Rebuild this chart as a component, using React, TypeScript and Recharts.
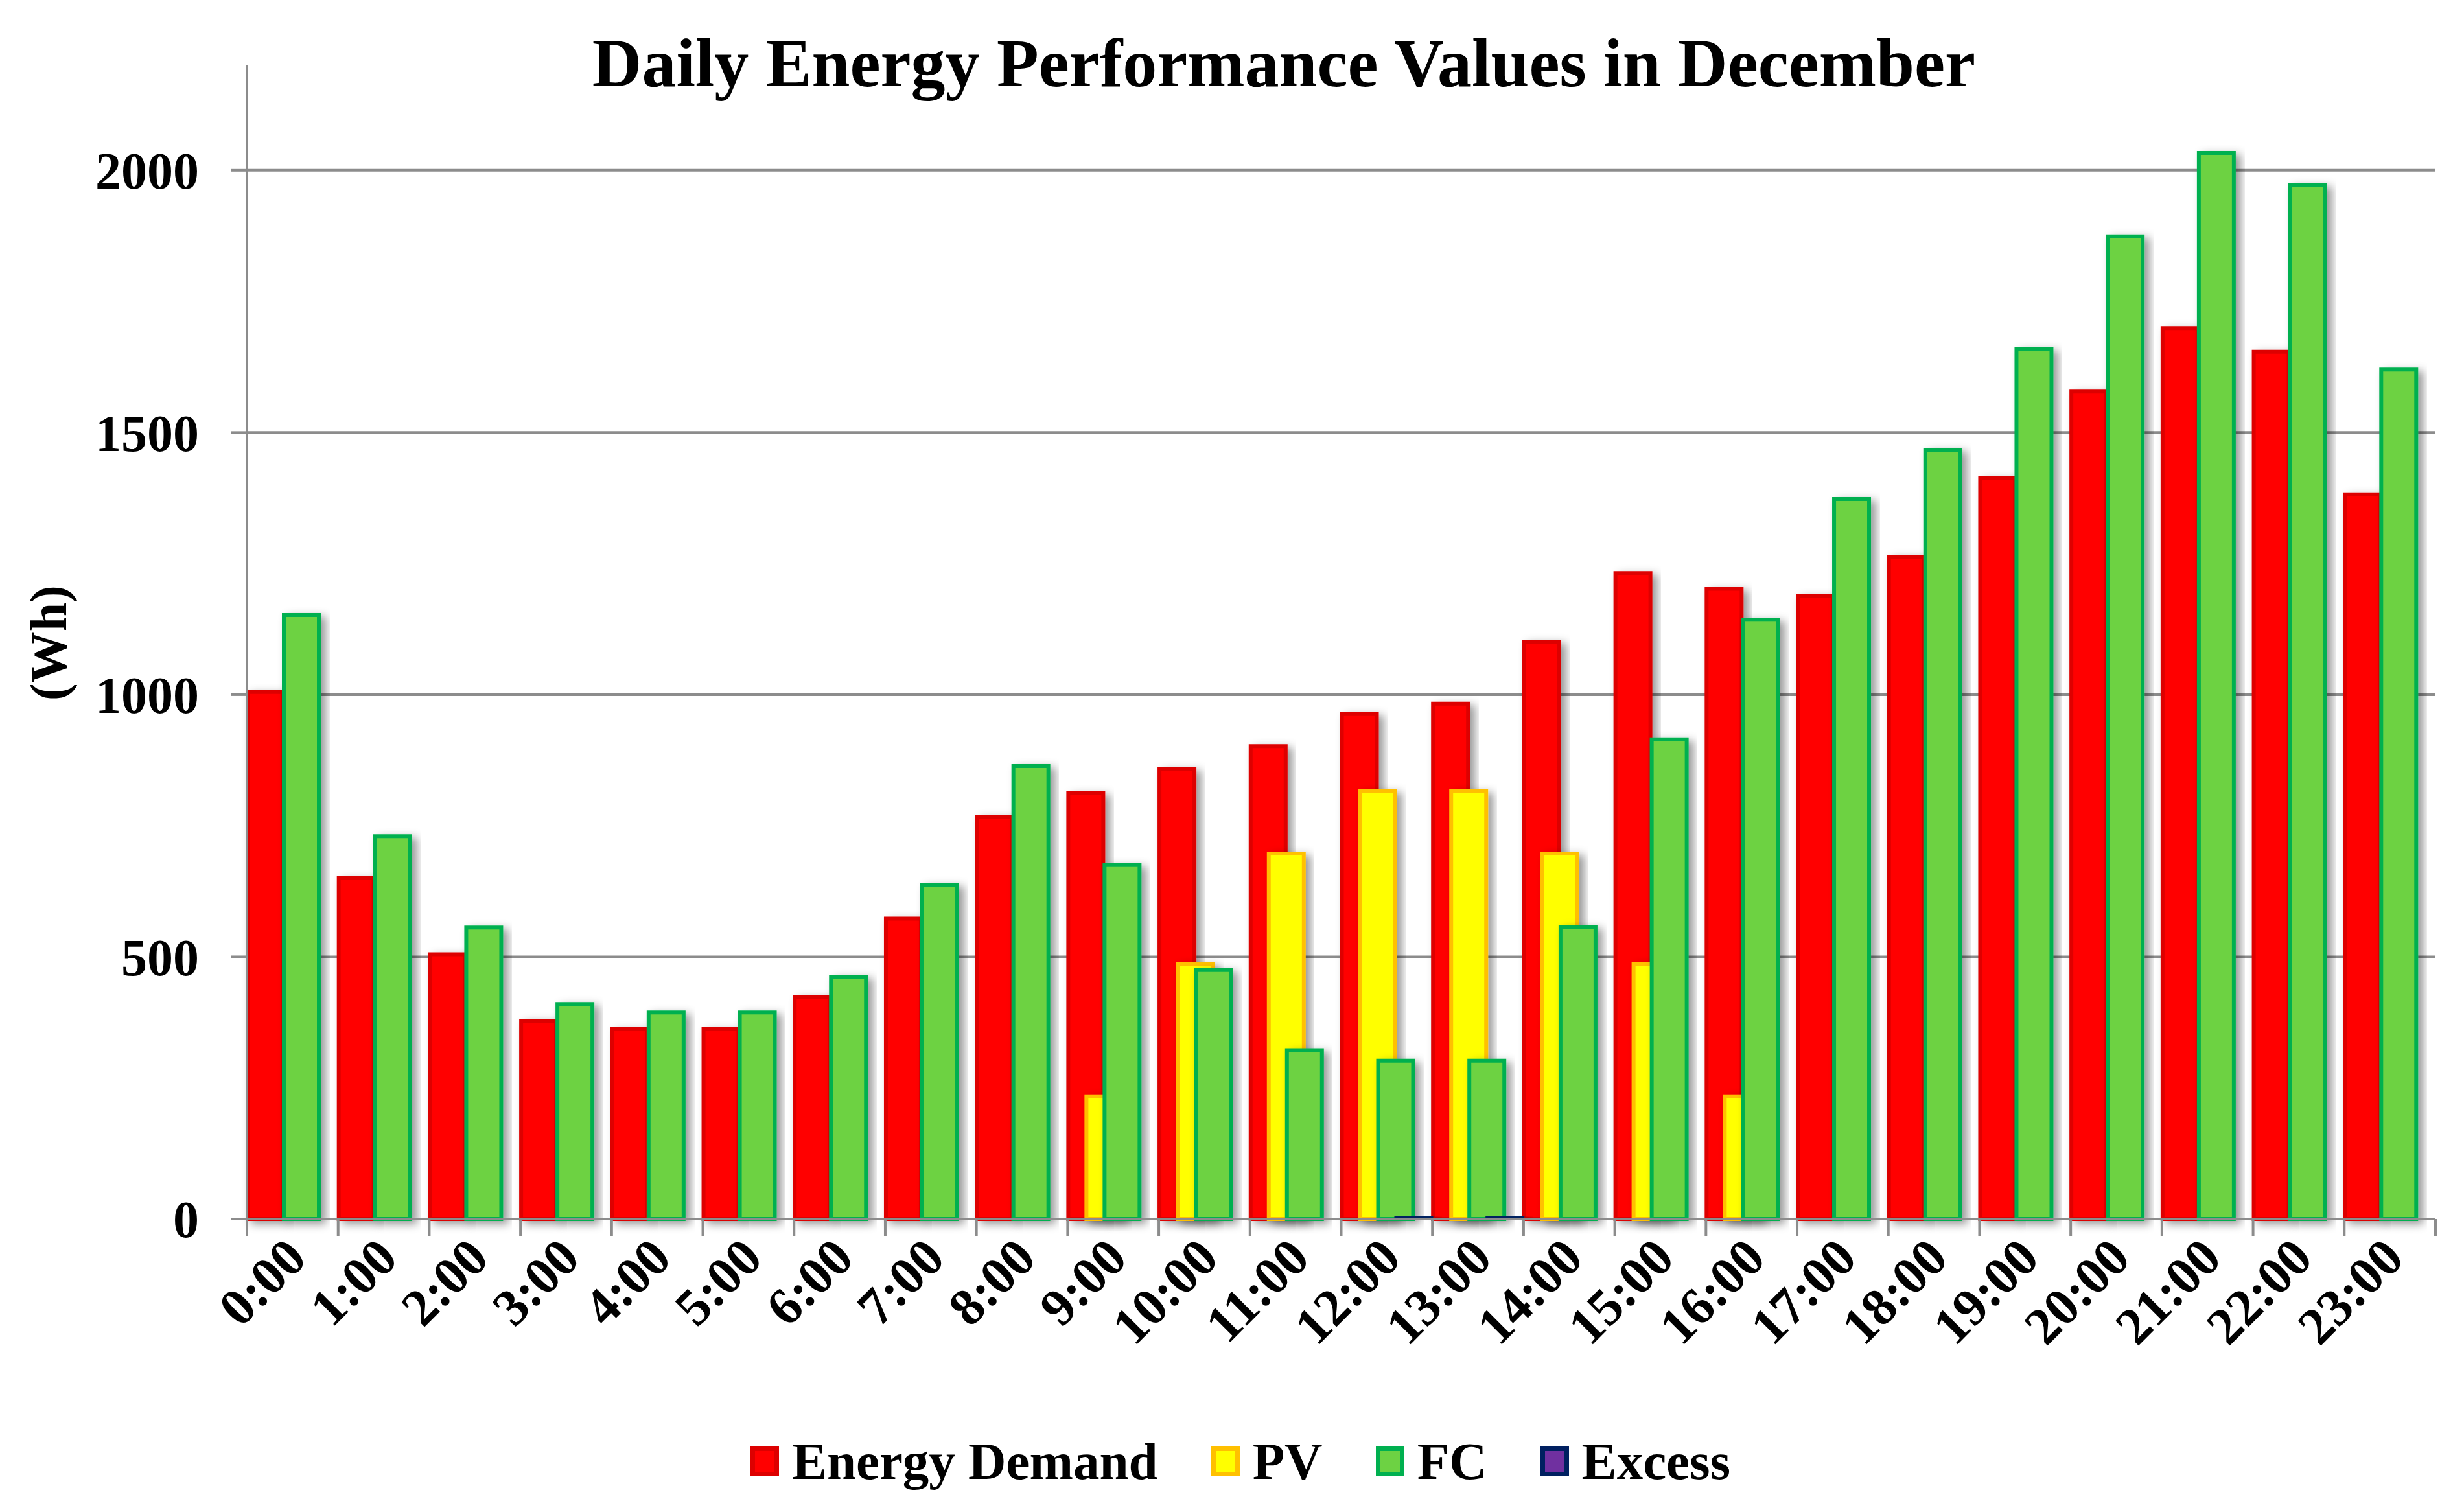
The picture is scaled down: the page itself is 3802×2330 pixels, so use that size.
import React from "react";
import { BarChart, Bar, XAxis, YAxis, CartesianGrid, Legend } from "recharts";

const HOURS = [
  "0:00", "1:00", "2:00", "3:00", "4:00", "5:00", "6:00", "7:00",
  "8:00", "9:00", "10:00", "11:00", "12:00", "13:00", "14:00", "15:00",
  "16:00", "17:00", "18:00", "19:00", "20:00", "21:00", "22:00", "23:00",
];
const DEMAND = [1005, 650, 505, 378, 362, 362, 423, 573, 767, 812, 858, 902, 963, 983, 1101, 1232, 1202, 1188, 1263, 1413, 1578, 1699, 1654, 1382];
const PV = [0, 0, 0, 0, 0, 0, 0, 0, 0, 234, 486, 697, 816, 816, 697, 486, 234, 0, 0, 0, 0, 0, 0, 0];
const FC = [1152, 730, 556, 410, 394, 394, 462, 637, 864, 675, 475, 322, 302, 302, 557, 915, 1143, 1373, 1467, 1659, 1874, 2033, 1972, 1620];
const EXCESS = [0, 0, 0, 0, 0, 0, 0, 0, 0, 0, 0, 0, 5, 5, 0, 0, 0, 0, 0, 0, 0, 0, 0, 0];
const Y_TICKS = [0, 500, 1000, 1500, 2000];
const GRID_VALUES = [500, 1000, 1500, 2000];

const SERIES = [
  { key: "demand", name: "Energy Demand", fill: "#FF0000", stroke: "#DD0000" },
  { key: "pv", name: "PV", fill: "#FFFF00", stroke: "#FFC000" },
  { key: "fc", name: "FC", fill: "#6DD243", stroke: "#00B050" },
  { key: "excess", name: "Excess", fill: "#7030A0", stroke: "#002060" },
];

const data = HOURS.map((h, i) => ({
  hour: h,
  demand: DEMAND[i],
  pv: PV[i],
  fc: FC[i],
  excess: EXCESS[i],
}));

const W = 3802;
const H = 2330;
const M = { top: 101, right: 44, left: 0, bottom: 25 };
const Y_W = 381;
const BAND = (W - M.left - M.right - Y_W) / HOURS.length;
const FONT = "'Liberation Serif', 'Times New Roman', serif";
const GRAY = "#8c8c8c";

function HourTick(props: any) {
  const { x, y, payload, index } = props;
  const left = x - BAND / 2;
  const tx = x + 25;
  const ty = y + 64;
  return (
    <g>
      <line x1={left} y1={y} x2={left} y2={y + 26} stroke={GRAY} strokeWidth={4} />
      {index === HOURS.length - 1 && (
        <line x1={x + BAND / 2} y1={y} x2={x + BAND / 2} y2={y + 26} stroke={GRAY} strokeWidth={4} />
      )}
      <text
        x={tx}
        y={ty}
        transform={`rotate(-45, ${tx}, ${ty})`}
        textAnchor="end"
        fontSize={81}
        fontWeight="bold"
        fontFamily={FONT}
        fill="#000"
      >
        {payload.value}
      </text>
    </g>
  );
}

function LegendBox() {
  return (
    <div
      style={{
        display: "flex",
        justifyContent: "center",
        alignItems: "center",
        height: 100,
        paddingLeft: 70,
        fontFamily: FONT,
        fontWeight: "bold",
        fontSize: 81,
      }}
    >
      {SERIES.map((s, i) => (
        <div key={s.key} style={{ display: "flex", alignItems: "center", marginRight: i < SERIES.length - 1 ? 82 : 0 }}>
          <div
            style={{
              width: 30,
              height: 32,
              background: s.fill,
              border: `7px solid ${s.stroke}`,
              marginRight: 20,
            }}
          />
          <span style={{ lineHeight: 1 }}>{s.name}</span>
        </div>
      ))}
    </div>
  );
}

export default function App() {
  return (
    <div style={{ position: "absolute", left: 0, top: 0, width: W, height: H, background: "#fff" }}>
      <BarChart width={W} height={H} data={data} margin={M} barSize={54} barGap={-26} barCategoryGap={0}>
        <defs>
          <filter id="barShadow" x="-30%" y="-10%" width="160%" height="120%">
            <feDropShadow dx={8} dy={5} stdDeviation={7} floodColor="#000" floodOpacity={0.4} />
          </filter>
        </defs>
        <text x={1981} y={133} textAnchor="middle" fontSize={106} fontWeight="bold" fontFamily={FONT} fill="#000">
          Daily Energy Performance Values in December
        </text>
        <text
          x={102}
          y={992}
          transform="rotate(-90, 102, 992)"
          textAnchor="middle"
          fontSize={80}
          fontWeight="bold"
          fontFamily={FONT}
          fill="#000"
        >
          (Wh)
        </text>
        <CartesianGrid vertical={false} horizontalValues={GRID_VALUES} stroke={GRAY} strokeWidth={4} />
        <XAxis
          dataKey="hour"
          interval={0}
          height={324}
          tickLine={false}
          tickSize={0}
          tickMargin={0}
          axisLine={{ stroke: GRAY, strokeWidth: 4 }}
          tick={<HourTick />}
        />
        <YAxis
          width={Y_W}
          domain={[0, 2200]}
          ticks={Y_TICKS}
          tickSize={24}
          tickMargin={50}
          tickLine={{ stroke: GRAY, strokeWidth: 4 }}
          axisLine={{ stroke: GRAY, strokeWidth: 4 }}
          tick={{ fill: "#000", fontSize: 80, fontWeight: "bold", fontFamily: FONT }}
        />
        <Legend verticalAlign="bottom" height={100} content={<LegendBox />} />
        {SERIES.map((s) => (
          <Bar
            key={s.key}
            dataKey={s.key}
            name={s.name}
            fill={s.fill}
            stroke={s.stroke}
            strokeWidth={6}
            filter="url(#barShadow)"
            isAnimationActive={false}
          />
        ))}
      </BarChart>
    </div>
  );
}
